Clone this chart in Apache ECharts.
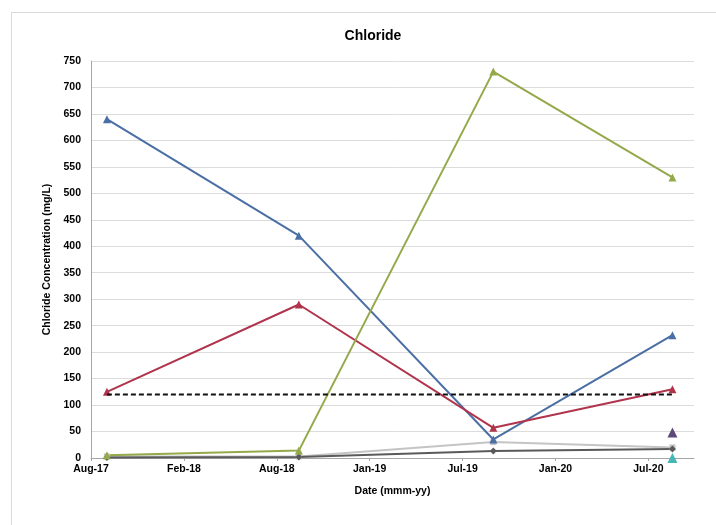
<!DOCTYPE html>
<html>
<head>
<meta charset="utf-8">
<script src="https://cdn.jsdelivr.net/npm/echarts@6/dist/echarts.min.js"></script>
<style>
html,body{margin:0;padding:0;background:#fff;}
#c{width:716px;height:525px;}
</style>
</head>
<body>
<div id="c"></div>
<script>
// ---- data ----
const axisStart = '2017-08-04';       // first x tick (Aug-17)
const tickDays = 181;                  // spacing of x ticks in days
const axisEndDays = 1175;
const sampleDates = ['2017-09-04', '2018-09-13', '2019-09-27', '2020-09-10'];
const seriesBlue   = [640, 420, 35, 232];
const seriesRed    = [125, 290, 57, 130];
const seriesGreen  = [5, 14, 730, 530];
const seriesLight  = [3, 3, 30, 20];
const seriesDark   = [1, 2, 13, 17];
const seriesPurple = [null, null, null, 48];
const seriesCyan   = [null, null, null, 0];
const guideline    = [120, 120, 120, 120];
const titleText = 'Chloride';
const yTitle = 'Chloride Concentration (mg/L)';
const xTitle = 'Date (mmm-yy)';

const DAY = 86400000;
const t0 = Date.parse(axisStart + 'T00:00:00Z');
const xs = sampleDates.map(d => Math.round((Date.parse(d + 'T00:00:00Z') - t0) / DAY));
const pairs = vals => vals.map((v, i) => v == null ? null : [xs[i], v]).filter(p => p);
const MON = ['Jan','Feb','Mar','Apr','May','Jun','Jul','Aug','Sep','Oct','Nov','Dec'];
function fmt(v) {
  if (v % tickDays !== 0) return '';
  const d = new Date(t0 + v * DAY);
  return MON[d.getUTCMonth()] + '-' + String(d.getUTCFullYear()).slice(2);
}

const font = 'Liberation Sans, Arial, sans-serif';
function line(name, vals, color, symbol, size, extra) {
  return Object.assign({
    name, type: 'line', data: pairs(vals),
    symbol, symbolSize: size,
    lineStyle: { color, width: 2 },
    itemStyle: { color },
    z: 3, animation: false
  }, extra || {});
}

const chart = echarts.init(document.getElementById('c'), null, { renderer: 'canvas' });
chart.setOption({
  backgroundColor: '#fff',
  animation: false,
  title: {
    text: titleText, left: 368, top: 24, textAlign: 'center',
    textStyle: { fontFamily: font, fontSize: 14, fontWeight: 'bold', color: '#000' }
  },
  graphic: [{
    type: 'rect', left: 9, top: 10, shape: { width: 706, height: 514 },
    style: { fill: 'none', stroke: '#D9D9D9', lineWidth: 1 }, silent: true, z: -1
  }],
  grid: { left: 91, right: 22, top: 61, bottom: 67 },
  xAxis: {
    type: 'value', min: 0, max: axisEndDays, interval: tickDays,
    name: xTitle, nameLocation: 'middle', nameGap: 28,
    nameTextStyle: { fontFamily: font, fontSize: 10.5, fontWeight: 'bold', color: '#000' },
    axisLine: { show: true, lineStyle: { color: '#A6A6A6', width: 1 } },
    axisTick: { show: true, length: 3, lineStyle: { color: '#A6A6A6' } },
    axisLabel: { formatter: fmt, showMaxLabel: false, margin: 6,
      fontFamily: font, fontSize: 10.5, fontWeight: 'bold', color: '#000' },
    splitLine: { show: false }
  },
  yAxis: {
    type: 'value', min: 0, max: 750, interval: 50,
    name: yTitle, nameLocation: 'middle', nameGap: 30, nameRotate: 90,
    nameTextStyle: { fontFamily: font, fontSize: 10.5, fontWeight: 'bold', color: '#000' },
    axisLine: { show: true, lineStyle: { color: '#A6A6A6', width: 1 } },
    axisTick: { show: false },
    axisLabel: { margin: 10, fontFamily: font, fontSize: 10.5, fontWeight: 'bold', color: '#000' },
    splitLine: { show: true, lineStyle: { color: '#DCDCDC', width: 1 } }
  },
  series: [
    line('Light', seriesLight, '#C4C4C4', 'rect', 6),
    line('Dark', seriesDark, '#5A5A5A', 'diamond', 7),
    line('Blue', seriesBlue, '#4A6FA5', 'triangle', 8),
    line('Red', seriesRed, '#B0344C', 'triangle', 8),
    line('Green', seriesGreen, '#93A94A', 'triangle', 8),
    line('Purple', seriesPurple, '#5E4A7A', 'triangle', 10),
    line('Cyan', seriesCyan, '#46B5B5', 'triangle', 10),
    line('Guideline', guideline, '#000', 'none', 0, {
      lineStyle: { color: '#111', width: 2, type: [5, 3] }, z: 4
    })
  ]
});
</script>
</body>
</html>
